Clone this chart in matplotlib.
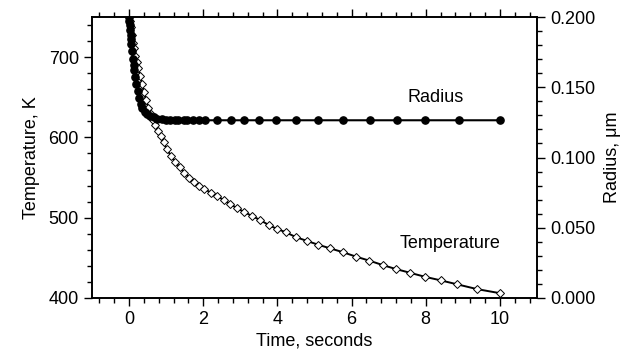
import matplotlib
matplotlib.use("Agg")
import matplotlib.pyplot as plt
from matplotlib.ticker import MultipleLocator, FormatStrFormatter

plt.rcParams["font.family"] = ["Liberation Sans", "DejaVu Sans"]
plt.rcParams["font.size"] = 13

# temperature series (K) vs time (s)
temp_time = [0, 0.02, 0.04, 0.07, 0.10, 0.13, 0.17, 0.21, 0.25, 0.30, 0.35, 0.40,
             0.46, 0.52, 0.58, 0.64, 0.71, 0.78, 0.85, 0.93, 1.02, 1.13, 1.24, 1.36,
             1.49, 1.62, 1.76, 1.89, 2.03, 2.21, 2.38, 2.55, 2.73, 2.91, 3.11, 3.32,
             3.54, 3.76, 3.99, 4.22, 4.49, 4.80, 5.09, 5.41, 5.77, 6.12, 6.48, 6.84,
             7.20, 7.57, 7.97, 8.40, 8.85, 9.39, 10.0]
temp_k = [750, 745, 737, 727, 718, 711, 702, 694, 686, 676, 666, 656,
          646, 637, 629, 622, 615, 608, 602, 594, 585, 577, 570, 563,
          556, 550, 545, 540, 536, 531, 527, 522, 517, 512, 507, 502,
          497, 491, 486, 482, 476, 471, 466.5, 462, 457, 451.5, 446.5, 441,
          436, 431.5, 426.5, 422, 417, 411, 406]

# particle radius series (um) vs time (s)
rad_time = [0, 0.01, 0.02, 0.03, 0.04, 0.05, 0.06, 0.08, 0.10, 0.12, 0.14, 0.17,
            0.20, 0.23, 0.27, 0.31, 0.36, 0.42, 0.48, 0.56, 0.66, 0.76, 0.88, 1.0,
            1.11, 1.25, 1.33, 1.47, 1.57, 1.73, 1.88, 2.06, 2.38, 2.74, 3.10, 3.50,
            3.96, 4.50, 5.09, 5.77, 6.50, 7.23, 7.99, 8.90, 10.0]
rad_um = [0.200, 0.197, 0.194, 0.191, 0.187, 0.184, 0.181, 0.176, 0.170, 0.166,
          0.162, 0.157, 0.152, 0.147, 0.142, 0.138, 0.135, 0.1325, 0.1310, 0.1295,
          0.1285, 0.1277, 0.1272, 0.1268, 0.1266, 0.1265, 0.1265, 0.1265, 0.1265,
          0.1265, 0.1265, 0.1265, 0.1265, 0.1265, 0.1265, 0.1265, 0.1265, 0.1265,
          0.1265, 0.1265, 0.1265, 0.1265, 0.1265, 0.1265, 0.1265]

fig = plt.figure(figsize=(6.3, 3.51), dpi=100)
ax = fig.add_axes([92 / 630, 1 - 298 / 351, 445 / 630, 281 / 351])
ax2 = ax.twinx()

ax.plot(temp_time, temp_k, color="black", lw=1.4, marker="D", ms=4.2,
        mfc="white", mec="black", mew=0.7)
ax2.plot(rad_time, rad_um, color="black", lw=1.5, marker="o", ms=5.2,
         mfc="black", mec="black")

ax.set_xlim(-1, 11)
ax.set_ylim(400, 750)
ax2.set_ylim(0, 0.2)

ax.xaxis.set_major_locator(MultipleLocator(2))
ax.xaxis.set_minor_locator(MultipleLocator(0.4))
ax.yaxis.set_major_locator(MultipleLocator(100))
ax.yaxis.set_minor_locator(MultipleLocator(20))
ax2.yaxis.set_major_locator(MultipleLocator(0.05))
ax2.yaxis.set_minor_locator(MultipleLocator(0.01))
ax2.yaxis.set_major_formatter(FormatStrFormatter("%.3f"))

ax.tick_params(which="both", direction="out", top=True, width=1)
ax.tick_params(which="major", length=6)
ax.tick_params(which="minor", length=3.5)
ax2.tick_params(which="both", direction="out", width=1)
ax2.tick_params(which="major", length=6)
ax2.tick_params(which="minor", length=3.5)
for a in (ax, ax2):
    for s in a.spines.values():
        s.set_linewidth(1.2)

ax.set_xlabel("Time, seconds", labelpad=3)
ax.set_ylabel("Temperature, K", labelpad=6)
ax2.set_ylabel("Radius, \u03bcm", labelpad=6)

ax.text(8.27, 650, "Radius", fontsize=13, ha="center", va="center")
ax.text(8.65, 468, "Temperature", fontsize=13, ha="center", va="center")

fig.savefig("out.png", dpi=100)
plt.close(fig)
